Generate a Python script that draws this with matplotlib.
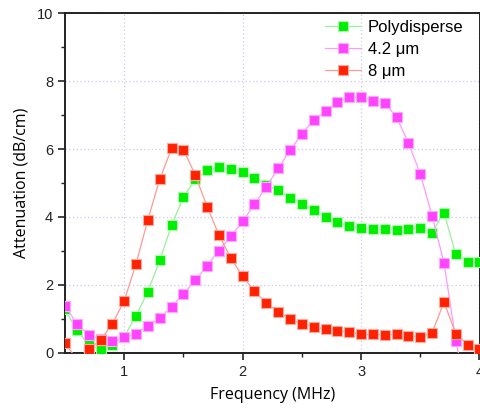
import matplotlib
matplotlib.use("Agg")
import matplotlib.pyplot as plt
import numpy as np

freq = [0.5, 0.6, 0.7, 0.8, 0.9, 1.0, 1.1, 1.2, 1.3, 1.4, 1.5, 1.6, 1.7, 1.8, 1.9,
        2.0, 2.1, 2.2, 2.3, 2.4, 2.5, 2.6, 2.7, 2.8, 2.9, 3.0, 3.1, 3.2, 3.3, 3.4,
        3.5, 3.6, 3.7, 3.8, 3.9, 4.0]

poly = [1.28, 0.66, 0.24, 0.09, 0.22, 0.47, 1.09, 1.80, 2.72, 3.76, 4.58, 5.11, 5.37, 5.46, 5.42,
        5.31, 5.14, 4.95, 4.78, 4.57, 4.39, 4.19, 4.01, 3.84, 3.74, 3.67, 3.64, 3.64, 3.62, 3.64,
        3.67, 3.54, 4.13, 2.90, 2.68, 2.66]

um42 = [1.38, 0.85, 0.53, 0.39, 0.34, 0.45, 0.55, 0.80, 1.02, 1.36, 1.73, 2.14, 2.56, 3.01, 3.43,
        3.87, 4.37, 4.89, 5.43, 5.96, 6.45, 6.85, 7.11, 7.39, 7.52, 7.53, 7.43, 7.36, 6.94, 6.18,
        5.27, 4.03, 2.65, 0.35, -1.30, -1.50]

um8 = [0.29, -0.20, 0.11, 0.37, 0.85, 1.53, 2.62, 3.92, 5.11, 6.02, 5.98, 5.24, 4.30, 3.47, 2.79,
       2.25, 1.81, 1.46, 1.20, 1.00, 0.85, 0.77, 0.69, 0.64, 0.60, 0.54, 0.54, 0.53, 0.54, 0.50,
       0.46, 0.59, 1.49, 0.56, 0.23, 0.11]

labels = ["Polydisperse", "4.2 μm", "8 μm"]

fig = plt.figure(figsize=(4.8, 4.08), dpi=100)
ax = fig.add_axes([65/480, 55.3/408, 414.5/480, 339.4/408])

styles = [
    (poly, "#00ee00", "#99f099", "#b0ffb0"),
    (um42, "#ff44ff", "#ff99ff", "#ffaaff"),
    (um8, "#ff2200", "#ff9a90", "#ffa8a0"),
]
for (vals, mc, lc, ec), lab in zip(styles, labels):
    ax.plot(freq, vals, color=lc, lw=0.9, marker="s", markersize=7.5,
            markerfacecolor=mc, markeredgecolor=ec, markeredgewidth=0.8,
            label=lab, zorder=3)

ax.set_xlim(0.5, 4.0)
ax.set_ylim(0, 10)
ax.set_xticks([1, 2, 3, 4])
ax.set_xticks([1.5, 2.5, 3.5], minor=True)
ax.set_yticks([0, 2, 4, 6, 8, 10])
ax.set_yticks([1, 3, 5, 7, 9], minor=True)

ax.grid(True, which="major", color="#c8c8f0", linestyle=(0, (1, 2)), lw=0.9)
ax.set_axisbelow(True)

for s in ax.spines.values():
    s.set_linewidth(1.4)
    s.set_color("#222222")

ax.tick_params(axis="both", which="major", direction="out", length=5, width=1.2,
               labelsize=10.5, colors="#222222")
ax.tick_params(axis="both", which="minor", direction="out", length=3, width=1.0,
               colors="#222222")
for t in ax.get_xticklabels() + ax.get_yticklabels():
    t.set_family("Liberation Sans")

ax.set_xlabel("Frequency (MHz)", family="Open Sans", fontsize=11.5, labelpad=6)
ax.set_ylabel("Attenuation (dB/cm)", family="Open Sans", fontsize=11.5, labelpad=5)

leg = ax.legend(loc="upper right", frameon=False, prop={"family": "Liberation Sans", "size": 12},
                bbox_to_anchor=(0.99, 1.015), handlelength=2.2, handletextpad=0.4,
                labelspacing=0.42, borderaxespad=0.3)
leg.set_zorder(5)

fig.savefig("out.png", dpi=100)
